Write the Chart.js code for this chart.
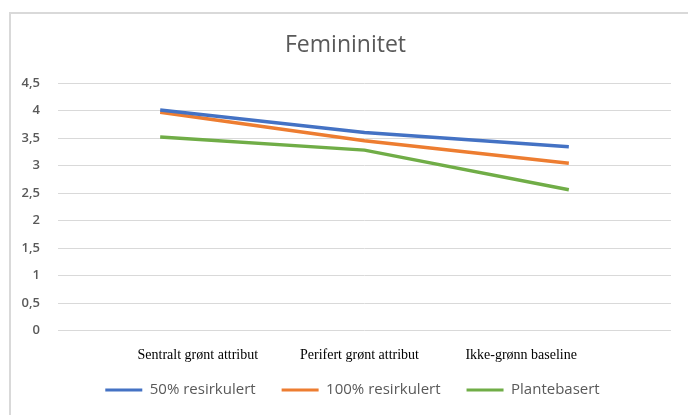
<!DOCTYPE html>
<html>
<head>
<meta charset="utf-8">
<script src="https://cdn.jsdelivr.net/npm/chart.js@4/dist/chart.umd.min.js"></script>
<style>
  html, body { margin: 0; padding: 0; background: #fff; }
  body { width: 688px; height: 415px; position: relative; overflow: hidden; }
  .frame {
    position: absolute; left: 9px; top: 12px; width: 720px; height: 440px;
    border-left: 2px solid #d9d9d9; border-top: 2px solid #d9d9d9;
    box-sizing: border-box;
  }
  .wrap { position: absolute; left: 0; top: 0; width: 688px; height: 415px; }
</style>
</head>
<body>
<div class="frame"></div>
<div class="wrap"><canvas id="c" width="688" height="415"></canvas></div>
<script>
const categories = ['Sentralt grønt attribut', 'Perifert grønt attribut', 'Ikke-grønn baseline'];
const resirkulert50 = [4.01, 3.60, 3.34];
const resirkulert100 = [3.97, 3.45, 3.04];
const plantebasert = [3.52, 3.28, 2.56];
const seriesNames = ['50% resirkulert', '100% resirkulert', 'Plantebasert'];
const seriesColors = ['#4472c4', '#ed7d31', '#70ad47'];
const yTicks = [0, 0.5, 1, 1.5, 2, 2.5, 3, 3.5, 4, 4.5];

const seriesValues = [resirkulert50, resirkulert100, plantebasert];

// The category text row sits in a narrower band than the plotted points,
// and the legend is nudged right of the plot centre and closer to the labels.
const labelBandInset = { left: 59, right: 69 };
const legendShift = { x: 7, y: -7.5 };
const catFontSize = 14;
const catLineHeight = 1.2;
const catPadding = 16.6;

const bandPlugin = {
  id: 'labelBand',
  afterLayout(chart) {
    const ca = chart.chartArea;
    const xl = chart.scales.xl;
    xl.left = ca.left + labelBandInset.left;
    xl.right = ca.right - labelBandInset.right;
    xl.width = xl.right - xl.left;
    xl.configure();
    const lg = chart.legend;
    if (lg) {
      lg.left += legendShift.x;
      lg.right += legendShift.x;
      lg.top += legendShift.y;
      lg.bottom += legendShift.y;
    }
  }
};

new Chart(document.getElementById('c'), {
  type: 'line',
  data: {
    labels: categories,
    datasets: seriesValues.map((vals, i) => ({
      label: seriesNames[i],
      data: vals,
      borderColor: seriesColors[i],
      backgroundColor: seriesColors[i],
      borderWidth: 3.5,
      pointRadius: 0,
      tension: 0,
      fill: false
    }))
  },
  plugins: [bandPlugin],
  options: {
    responsive: false,
    animation: false,
    layout: { padding: { left: 20, right: 17, top: 32, bottom: 0 } },
    plugins: {
      title: {
        display: true,
        text: 'Femininitet',
        color: '#595959',
        font: { family: 'Open Sans', size: 23, weight: 'normal', lineHeight: 1.2 },
        padding: { top: 0, bottom: 23.4 }
      },
      legend: {
        position: 'bottom',
        labels: {
          color: '#595959',
          font: { family: 'Open Sans', size: 15 },
          boxWidth: 37,
          boxHeight: 3,
          padding: 26,
          generateLabels: (chart) =>
            Chart.defaults.plugins.legend.labels.generateLabels(chart)
              .map(item => ({ ...item, lineWidth: 0 }))
        }
      },
      tooltip: { enabled: false }
    },
    scales: {
      x: {
        display: false,
        offset: true,
        ticks: { display: false },
        grid: { display: false, drawTicks: false }
      },
      xl: {
        type: 'category',
        labels: categories,
        position: 'bottom',
        offset: true,
        grid: { display: false, drawTicks: false },
        border: { display: false },
        // only one padding gap above the labels, none below
        afterFit: (axis) => { axis.height = catPadding + catFontSize * catLineHeight; },
        ticks: {
          color: '#000',
          font: { family: 'Liberation Serif', size: catFontSize, lineHeight: catLineHeight },
          padding: catPadding,
          autoSkip: false,
          maxRotation: 0
        }
      },
      y: {
        min: 0,
        max: 4.5,
        afterBuildTicks: (axis) => { axis.ticks = yTicks.map(v => ({ value: v })); },
        afterFit: (axis) => { axis.width = 38; },
        grid: { color: '#d9d9d9', lineWidth: 1, drawTicks: false },
        border: { display: false },
        ticks: {
          color: '#595959',
          font: { family: 'Open Sans', size: 13, weight: '600' },
          padding: 18,
          callback: (v) => String(v).replace('.', ',')
        }
      }
    }
  }
});
</script>
</body>
</html>
